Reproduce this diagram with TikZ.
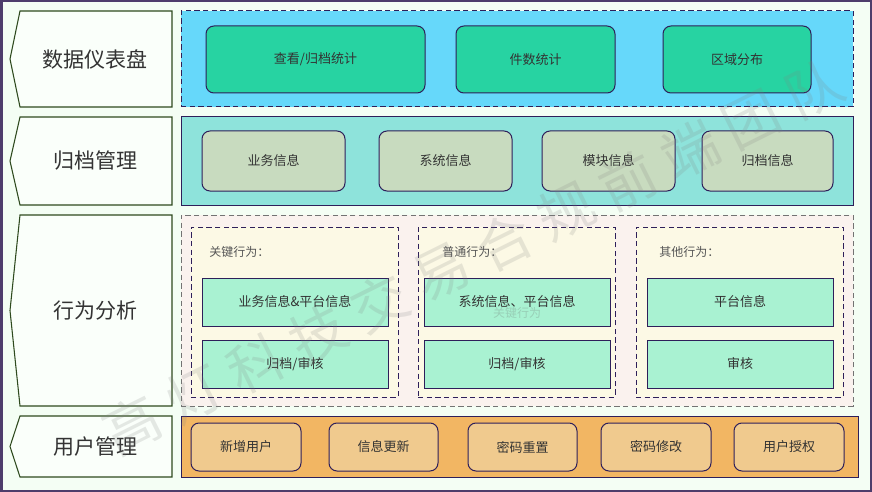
\documentclass[tikz,border=0pt]{standalone}
\usepackage{fontspec}
\setmainfont{Noto Sans CJK SC}
\newfontfamily\cjk{Noto Sans CJK SC}
\definecolor{bgc}{HTML}{F4FEF4}
\definecolor{framec}{HTML}{4D3D6B}
\definecolor{labfill}{HTML}{FAFFFA}
\definecolor{labline}{HTML}{2E4A1E}
\definecolor{pa}{HTML}{66D8FA}
\definecolor{ba}{HTML}{27D3A2}
\definecolor{pb}{HTML}{8EE3DB}
\definecolor{bb}{HTML}{C8DBBF}
\definecolor{pc}{HTML}{FAF2EE}
\definecolor{gc}{HTML}{FCF9E5}
\definecolor{bc}{HTML}{A9F2D2}
\definecolor{pd}{HTML}{F2B663}
\definecolor{bd}{HTML}{F0CA8E}
\definecolor{darkline}{HTML}{2E1F5A}
\definecolor{txt}{HTML}{333333}
\definecolor{ttl}{HTML}{555555}
\tikzset{
  labshape/.style={draw=labline, fill=labfill, line width=0.8pt},
  labtext/.style={text=txt, font=\fontsize{15.75pt}{18pt}\selectfont},
  panelbox/.style={draw=darkline, line width=0.75pt, inner sep=0pt, outer sep=0pt},
  dashbox/.style={panelbox, dash pattern=on 4pt off 2.5pt},
  rbx/.style={draw=darkline, line width=0.75pt, rounded corners=6pt, inner sep=0pt, outer sep=0pt, text=txt, font=\fontsize{9.75pt}{12pt}\selectfont},
  sbx/.style={draw=darkline, line width=0.75pt, inner sep=0pt, outer sep=0pt, text=txt, font=\fontsize{9.75pt}{12pt}\selectfont},
  gtitle/.style={text=ttl, font=\fontsize{9pt}{11pt}\selectfont, anchor=west, inner sep=0pt},
  wm/.style={text=black!50, opacity=0.18, font=\fontsize{42pt}{46pt}\selectfont, rotate=26.5}
}
\newcommand\rb[7]{\node[#1, minimum width={(#5-#3)*0.75pt}, minimum height={(#6-#4)*0.75pt}] (#2) at ({(#3+#5)/2},{(#4+#6)/2}) {#7};}
\newcommand\lab[4]{\draw[labshape] (20,#2) -- (172,#2) -- (172,#3) -- (20,#3) -- (10,{(#2+#3)/2}) -- cycle;
  \node[labtext] (#1) at (95,{(#2+#3)/2}) {#4};}
\begin{document}
\begin{tikzpicture}[x=0.75pt,y=-0.75pt]
\useasboundingbox (0,0) rectangle (872,492);
\draw[fill=bgc, draw=framec, line width=1.5pt] (1.5,1.5) rectangle (870.5,490.5);
% left labels
\lab{l1}{11}{107}{数据仪表盘}
\lab{l2}{117}{205}{归档管理}
\lab{l3}{215}{406}{行为分析}
\lab{l4}{416}{477}{用户管理}
% panel 1
\rb{dashbox, fill=pa}{p1}{181}{11}{853}{107}{}
\rb{rbx, fill=ba}{a1}{206}{26}{425}{93}{查看/归档统计}
\rb{rbx, fill=ba}{a2}{456}{26}{615}{93}{件数统计}
\rb{rbx, fill=ba}{a3}{663}{26}{811}{93}{区域分布}
% panel 2
\rb{panelbox, fill=pb}{p2}{181}{117}{853}{205}{}
\rb{rbx, fill=bb}{b1}{202}{131}{345}{191}{业务信息}
\rb{rbx, fill=bb}{b2}{379}{131}{512}{191}{系统信息}
\rb{rbx, fill=bb}{b3}{542}{131}{675}{191}{模块信息}
\rb{rbx, fill=bb}{b4}{702}{131}{833}{191}{归档信息}
% panel 3
\rb{dashbox, draw=black!55, fill=pc}{p3}{181}{215}{853}{406}{}
\rb{dashbox, fill=gc}{g1}{191}{227}{398}{397}{}
\rb{dashbox, fill=gc}{g2}{418}{227}{615}{397}{}
\rb{dashbox, fill=gc}{g3}{636}{227}{843}{397}{}
\node[gtitle] (t1) at (209,252) {关键行为：};
\node[gtitle] (t2) at (442,252) {普通行为：};
\node[gtitle] (t3) at (659,252) {其他行为：};
\rb{sbx, fill=bc}{c1}{202}{278}{388}{326}{业务信息\&平台信息}
\rb{sbx, fill=bc}{c2}{202}{340}{388}{388}{归档/审核}
\rb{sbx, fill=bc}{c3}{424}{278}{610}{326}{系统信息、平台信息}
\rb{sbx, fill=bc}{c4}{424}{340}{610}{388}{归档/审核}
\rb{sbx, fill=bc}{c5}{647}{278}{833}{326}{平台信息}
\rb{sbx, fill=bc}{c6}{647}{340}{833}{388}{审核}
\node[text=black!60, opacity=0.25, font=\fontsize{9pt}{11pt}\selectfont] (ghost) at (517,313) {关键行为};
% panel 4
\rb{panelbox, fill=pd}{p4}{181}{416}{858}{477}{}
\rb{rbx, fill=bd}{d1}{191}{423}{301}{471}{新增用户}
\rb{rbx, fill=bd}{d2}{329}{423}{438}{471}{信息更新}
\rb{rbx, fill=bd}{d3}{468}{423}{577}{471}{密码重置}
\rb{rbx, fill=bd}{d4}{601}{423}{711}{471}{密码修改}
\rb{rbx, fill=bd}{d5}{734}{423}{844}{471}{用户授权}
% watermark
\foreach \ch [count=\i from 0] in {高,灯,科,技,交,易,合,规,前,端,团,队}
  \node[wm] (w\i) at ({132+\i*62},{425-\i*30.5}) {\ch};
\end{tikzpicture}
\end{document}
